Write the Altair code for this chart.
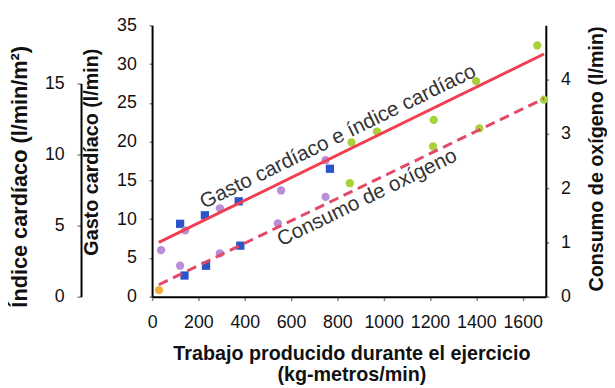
import altair as alt
import pandas as pd

# ---------------- data ----------------
x_ticks = [0, 200, 400, 600, 800, 1000, 1200, 1400, 1600]
gasto_ticks = [0, 5, 10, 15, 20, 25, 30, 35]
indice_ticks = [0, 5, 10, 15]
oxy_ticks = [0, 1, 2, 3, 4]

# upper group: gasto cardíaco (l/min)
up_blue_x = [121, 228, 374, 768]
up_blue_y = [9.4, 10.5, 12.3, 16.5]
up_purple_x = [39, 143, 293, 557, 749]
up_purple_y = [6.0, 8.55, 11.4, 13.7, 17.6]
up_green_x = [861, 971, 1216, 1399, 1663]
up_green_y = [19.9, 21.3, 22.8, 27.8, 32.4]

# lower group: consumo de oxígeno (l/min)
lo_blue_x = [140, 233, 381]
lo_blue_y = [0.39, 0.57, 0.94]
lo_purple_x = [121, 293, 543, 749]
lo_purple_y = [0.57, 0.80, 1.35, 1.84]
lo_green_x = [854, 1213, 1413, 1692]
lo_green_y = [2.09, 2.77, 3.10, 3.63]
lo_orange_x = [30]
lo_orange_y = [0.12]

# fitted lines
cardiac_line_x = [29, 1692]
cardiac_line_y = [7.0, 31.3]
oxy_line_x = [29, 1692]
oxy_line_y = [0.22, 3.65]

# annotations
cardiac_label = ["Gasto cardíaco e índice cardíaco"]
cardiac_label_x = [803]
cardiac_label_y = [20.6]
oxy_label = ["Consumo de oxígeno"]
oxy_label_x = [929]
oxy_label_y = [1.82]

groups = ["blue", "purple", "green", "orange"]
group_colors = ["#2a55c8", "#b98ed8", "#a8d13a", "#f2ae3a"]
group_shapes = ["square", "circle", "circle", "circle"]


def pts(xs, ys, g):
    return pd.DataFrame({"w": xs, "v": ys, "g": [g] * len(xs)})


up_df = pd.concat([pts(up_blue_x, up_blue_y, "blue"),
                   pts(up_purple_x, up_purple_y, "purple"),
                   pts(up_green_x, up_green_y, "green")])
lo_df = pd.concat([pts(lo_blue_x, lo_blue_y, "blue"),
                   pts(lo_purple_x, lo_purple_y, "purple"),
                   pts(lo_green_x, lo_green_y, "green"),
                   pts(lo_orange_x, lo_orange_y, "orange")])
cardiac_df = pd.DataFrame({"w": cardiac_line_x, "v": cardiac_line_y})
oxy_df = pd.DataFrame({"w": oxy_line_x, "v": oxy_line_y})
cardiac_lab_df = pd.DataFrame({"w": cardiac_label_x, "v": cardiac_label_y, "t": cardiac_label})
oxy_lab_df = pd.DataFrame({"w": oxy_label_x, "v": oxy_label_y, "t": oxy_label})
indice_df = pd.DataFrame({"w": [0, 0], "v": [0, 15]})

FONT = "Liberation Sans"

X = alt.X("w:Q",
          scale=alt.Scale(domain=[0, 1700], nice=False),
          axis=alt.Axis(values=x_ticks, format="d",
                        title=["Trabajo producido durante el ejercicio", "(kg-metros/min)"],
                        titleX=202, titleY=48, titleBaseline="top", titleAlign="center",
                        titleLineHeight=21, tickSize=4, labelPadding=13,
                        labelOverlap=False, labelFlush=False, labelBound=False))

color = alt.Color("g:N", scale=alt.Scale(domain=groups, range=group_colors), legend=None)
shape = alt.Shape("g:N", scale=alt.Scale(domain=groups, range=group_shapes), legend=None)

# ---------------- gasto cardíaco layer ----------------
Yg = alt.Y("v:Q", scale=alt.Scale(domain=[0, 35], nice=False),
           axis=alt.Axis(orient="left", values=gasto_ticks, title="Gasto cardíaco (l/min)",
                         titleX=-61, titleY=128, titleAngle=270, titleBaseline="middle",
                         titleAlign="center", tickSize=3, labelPadding=13))

g_line = alt.Chart(cardiac_df).mark_line(color="#ef3f50", strokeWidth=3).encode(x=X, y=Yg)
g_pts = alt.Chart(up_df).mark_point(filled=True, size=70, opacity=1).encode(
    x=X, y=Yg, color=color, shape=shape)
g_txt = alt.Chart(cardiac_lab_df).mark_text(angle=334, fontSize=21, font=FONT, color="#333333",
                                            align="center", baseline="middle").encode(
    x=X, y=Yg, text="t:N")
gasto_layer = alt.layer(g_pts, g_line, g_txt)

# ---------------- índice cardíaco axis ----------------
Yi = alt.Y("v:Q", scale=alt.Scale(domain=[0, 15], range=[275, 59], nice=False),
           axis=alt.Axis(orient="left", offset=72, values=indice_ticks,
                         title="Índice cardíaco (l/min/m²)",
                         titleX=-62, titleY=153, titleAngle=270, titleBaseline="middle",
                         titleAlign="center", titleFontSize=22, tickSize=4, labelPadding=13))
indice_layer = alt.Chart(indice_df).mark_point(opacity=0).encode(x=X, y=Yi)

# ---------------- consumo de oxígeno layer ----------------
Yo = alt.Y("v:Q", scale=alt.Scale(domain=[0, 5], nice=False),
           axis=alt.Axis(orient="right", values=oxy_ticks, title="Consumo de oxígeno (l/min)",
                         titleX=51, titleY=135, titleAngle=270, titleBaseline="middle",
                         titleAlign="center", titleFontSize=20, tickSize=3, labelPadding=12))
o_line = alt.Chart(oxy_df).mark_line(color="#e34867", strokeWidth=3, strokeDash=[10, 6]).encode(x=X, y=Yo)
o_pts = alt.Chart(lo_df).mark_point(filled=True, size=70, opacity=1).encode(
    x=X, y=Yo, color=color, shape=shape)
o_txt = alt.Chart(oxy_lab_df).mark_text(angle=334, fontSize=21, font=FONT, color="#333333",
                                        align="center", baseline="middle").encode(
    x=X, y=Yo, text="t:N")
oxy_layer = alt.layer(o_pts, o_line, o_txt)

chart = alt.layer(gasto_layer, indice_layer, oxy_layer).resolve_scale(
    y="independent", color="shared", shape="shared"
).properties(
    width=399, height=275,
    autosize=alt.AutoSizeParams(type="none"),
    padding={"left": 146, "top": 15, "right": 62, "bottom": 90},
    background="white",
).configure_view(stroke=None).configure_axis(
    grid=False, domainColor="#000000", domainWidth=2, tickColor="#888888", tickWidth=1.5,
    labelFont=FONT, labelFontSize=18, labelColor="#111111",
    titleFont=FONT, titleFontSize=20, titleFontWeight="bold", titleColor="#111111",
)

chart.save("out.html", embed_options={"renderer": "svg", "actions": False})
